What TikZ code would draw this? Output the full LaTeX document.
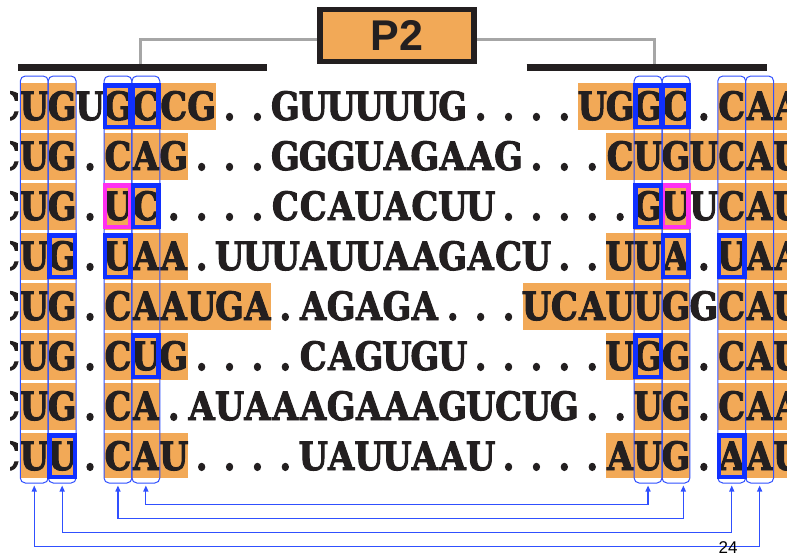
\documentclass[tikz,border=0pt]{standalone}
\usepackage{fontspec}
\newfontfamily\seqfont{DejaVu Serif}[FakeStretch=0.86, BoldFeatures={FakeBold=2.5}]
\newfontfamily\labfont{Liberation Sans}
\usetikzlibrary{arrows.meta,calc}
\definecolor{orng}{RGB}{242,169,87}
\definecolor{bblue}{RGB}{16,48,255}
\definecolor{tblue}{RGB}{48,80,255}
\definecolor{mag}{RGB}{255,48,240}
\definecolor{gline}{RGB}{166,166,166}
\definecolor{barblack}{RGB}{35,31,32}
\newcount\sqk
\makeatletter
\newcommand\placeseq[3]{\def\sq@y{#2}\def\sq@n{#1}\sqk=0 \sq@loop#3\relax}
\def\sq@loop#1{\ifx\relax#1\else\node[seqch] (\sq@n-\the\sqk) at ({6.35+27.9*\the\sqk},\sq@y) {#1};\advance\sqk by 1 \expandafter\sq@loop\fi}
\makeatother
\begin{document}
\begin{tikzpicture}[x=1pt,y=-1pt,
  seqch/.style={anchor=base, inner sep=0pt, font=\seqfont\bfseries\fontsize{39}{40}\selectfont, text=barblack},
  colbox/.style={draw=tblue, line width=1pt, rounded corners=5pt, minimum width=27.9pt, minimum height=407pt, inner sep=0pt},
  hlbox/.style={draw=bblue, line width=4.5pt, minimum width=25.5pt, minimum height=41.5pt, inner sep=0pt},
  mgbox/.style={hlbox, draw=mag},
  conn/.style={draw=tblue, line width=1.2pt, shorten <=2pt, shorten >=2pt, {Triangle[length=6pt,width=5pt]}-{Triangle[length=6pt,width=5pt]}},
  bar/.style={draw=barblack, line width=7.5pt},
  grayline/.style={draw=gline, line width=3pt},
  p2box/.style={draw=barblack, line width=5.5pt, fill=orng, minimum width=153.9pt, minimum height=52pt, inner sep=0pt, font=\labfont\bfseries\fontsize{43}{43}\selectfont, text=barblack}
]
\useasboundingbox (0,0) rectangle (787,552);
\fill[white] (0,0) rectangle (787,552);
% orange highlights
\foreach \r/\a/\b in {1/1/2,1/4/7,1/21/24,1/26/28, 2/1/2,2/4/6,2/22/28, 3/1/2,3/4/5,3/23/24,3/26/28, 4/1/2,4/4/6,4/22/24,4/26/28, 5/1/2,5/4/9,5/19/24,5/26/28, 6/1/2,6/4/6,6/22/24,6/26/28, 7/1/2,7/4/5,7/23/24,7/26/28, 8/1/2,8/4/6,8/22/24,8/26/28}
  \fill[orng] ({-7.6+27.9*\a},{83.3+50*(\r-1)}) rectangle ({-7.6+27.9*(\b+1)},{min(130.3+50*(\r-1),477.5)});
% sequences, one node per column (left edge cropped as in the source)
\begin{scope}
\clip (10,0) rectangle (787,552);
\placeseq{r1}{120}{CUGUGCCG..GUUUUUG....UGGC.CAA}
\placeseq{r2}{170}{CUG.CAG...GGGUAGAAG...CUGUCAU}
\placeseq{r3}{220}{CUG.UC....CCAUACUU.....GUUCAU}
\placeseq{r4}{270}{CUG.UAA.UUUAUUAAGACU..UUA.UAA}
\placeseq{r5}{320}{CUG.CAAUGA.AGAGA...UCAUUGGCAU}
\placeseq{r6}{370}{CUG.CUG....CAGUGU.....UGG.CAU}
\placeseq{r7}{420}{CUG.CA.AUAAAGAAAGUCUG..UG.CAA}
\placeseq{r8}{470}{CUU.CAU....UAUUAAU....AUG.AAU}
\end{scope}
% column outlines
\foreach \c in {1,2,4,5,23,24,26,27}
  \node[colbox] (col\c) at ({6.35+27.9*\c},279.5) {};
% highlight boxes
\foreach \r/\c [count=\i] in {3/4,3/24}
  \node[mgbox] (mg\i) at ({6.35+27.9*\c},{106.3+50*(\r-1)}) {};
\foreach \r/\c [count=\i] in {1/4,1/5,1/23,1/24,3/5,3/23,4/2,4/4,4/24,4/26,6/5,6/23,8/2,8/26}
  \node[hlbox] (hl\i) at ({6.35+27.9*\c},{106.3+50*(\r-1)}) {};
% pairing connectors
\draw[conn] (col5.south) -- ++(0,21.3) -| (col23.south);
\draw[conn] (col4.south) -- ++(0,35.3) -| ([xshift=7.4pt]col24.south);
\draw[conn] (col2.south) -- ++(0,48.7) -| (col26.south);
\draw[conn] (col1.south) -- ++(0,63) -| (col27.south);
% P2 label and bars
\coordinate (gl) at (140.7,63.5);
\coordinate (gr) at (654.3,63.5);
\coordinate (bl1) at (18.3,67.3);
\coordinate (bl2) at (266.7,67.3);
\coordinate (br1) at (526.7,67.3);
\coordinate (br2) at (766.7,67.3);
\coordinate (p2c) at (397,35.5);
\draw[grayline] ($(p2c)+(-80,3.8)$) -| (gl);
\draw[grayline] ($(p2c)+(80,3.8)$) -| (gr);
\node[p2box] (p2) at (p2c) {P2};
\draw[bar] (bl1) -- (bl2);
\draw[bar] (br1) -- (br2);
\node[font=\labfont\fontsize{17}{17}\selectfont, anchor=base, inner sep=0pt, text=black] (pg) at (728,553.9) {24};
\end{tikzpicture}
\end{document}
